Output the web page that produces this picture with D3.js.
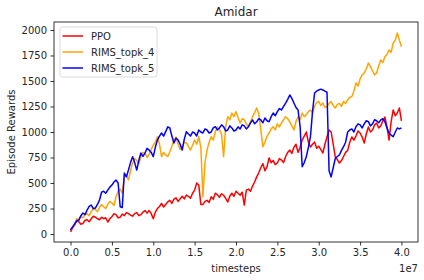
<!DOCTYPE html>
<html><head><meta charset="utf-8">
<script src="https://cdn.jsdelivr.net/npm/d3@7"></script>
<style>body{margin:0;background:#fff}svg text{font-family:"DejaVu Sans",sans-serif;fill:#262626}</style>
</head><body>
<svg id="c" width="424" height="280"></svg>
<script>
const title = "Amidar";
const xLabel = "timesteps";
const yLabel = "Episode Rewards";
const seriesNames = ["PPO", "RIMS_topk_4", "RIMS_topk_5"];
const seriesColors = ["#ff0000", "#ffa500", "#0000ff"];
// one value every 0.025e7 timesteps, from 0 to 4e7
const stepSize = 0.025;
const ppo = [22,60,90,130,120,95,105,135,140,120,150,175,165,150,140,165,150,160,118,150,
  170,200,190,160,165,195,180,210,200,185,175,200,210,180,190,215,230,205,230,200,
  150,215,250,270,300,265,290,315,330,300,343,355,320,345,370,345,382,370,350,400,
  431,500,480,290,290,320,330,310,365,340,400,385,360,395,380,350,314,370,400,370,
  420,400,380,410,284,430,440,420,470,510,560,600,650,690,620,660,745,700,720,680,
  696,740,725,700,760,800,823,790,850,880,800,850,921,960,1000,900,853,880,902,840,
  860,830,794,880,951,1020,1000,880,755,730,696,720,760,800,820,900,951,920,960,1010,
  990,950,892,980,1049,1000,1020,1070,1088,1040,1060,1110,1147,1050,921,1100,1216,1160,1186,1235,
  1110];
const topk4 = [40,70,100,150,137,170,160,190,200,180,219,250,240,220,260,290,268,250,290,320,
  304,280,366,420,440,400,560,580,530,620,696,740,720,690,758,800,794,750,780,830,
  870,900,954,880,758,800,775,760,807,860,921,950,880,830,856,900,892,860,823,870,
  921,880,954,850,366,700,823,900,954,920,1000,1050,1020,980,758,1050,1150,1120,1186,1150,
  1200,1140,1088,1130,1120,1080,1052,1100,1150,1190,1235,1180,1020,856,900,960,990,1030,1052,1020,
  1080,1050,1088,1120,1150,1130,1100,1060,1020,1100,1150,1120,1186,1150,1170,1200,1216,1190,1250,1290,
  1300,1260,1284,1240,1250,1280,1297,1260,1235,1270,1280,1250,1300,1280,1314,1340,1346,1400,1480,1450,
  1520,1560,1578,1620,1676,1640,1600,1560,1578,1650,1706,1680,1738,1760,1804,1780,1872,1900,1970,1900,
  1836];
const topk5 = [39,70,100,130,137,180,206,190,235,270,284,250,255,290,333,410,420,400,431,460,
  480,510,529,500,268,260,598,560,627,700,758,700,627,720,794,760,794,840,823,800,
  758,850,921,960,990,960,1003,1050,1039,960,892,940,921,880,823,930,1003,980,960,1000,
  990,960,1020,1000,990,1030,1020,990,1000,1040,1052,1020,1040,1070,1052,1010,1020,1060,1040,1010,
  1020,1050,1030,1070,1060,1030,1052,1090,1118,1080,1100,1130,1118,1090,1137,1110,1101,1150,1186,1160,
  1200,1230,1216,1250,1284,1320,1363,1330,1284,1240,1216,1052,660,700,758,850,954,1200,1382,1400,
  1412,1420,1412,1400,1390,620,560,650,740,760,775,820,856,900,1000,1020,1030,1000,1052,1080,
  1069,1040,1080,1110,1101,1060,1080,1120,1110,1090,1118,1130,1100,1040,990,970,954,1000,1039,1030,
  1039];
const xTicks = [0,0.5,1,1.5,2,2.5,3,3.5,4];
const yTicks = [0,250,500,750,1000,1250,1500,1750,2000];

const svg = d3.select("#c");
const L=54, R=418, T=22, B=242;
const x = d3.scaleLinear().domain([-0.2,4.2]).range([L,R]);
const y = d3.scaleLinear().domain([-78,2078]).range([B,T]);

const allSeries = [ppo, topk4, topk5];
const line = d3.line().x((d,i)=>x(i*stepSize)).y(d=>y(d));
allSeries.forEach((s,k)=>{
  svg.append("path").datum(s).attr("d", line).attr("fill","none")
    .attr("stroke", seriesColors[k]).attr("stroke-width",1.5).attr("stroke-linejoin","round");
});

const xa = svg.append("g").attr("transform",`translate(0,${B})`)
  .call(d3.axisBottom(x).tickValues(xTicks).tickFormat(d3.format(".1f")).tickSizeOuter(0).tickSize(3.5).tickPadding(3.5));
const ya = svg.append("g").attr("transform",`translate(${L},0)`)
  .call(d3.axisLeft(y).tickValues(yTicks).tickFormat(d3.format("d")).tickSizeOuter(0).tickSize(3.5).tickPadding(3.5));
[xa,ya].forEach(a=>{a.select(".domain").remove();a.selectAll("text").attr("font-size",10).attr("font-family","DejaVu Sans");a.selectAll("line").attr("stroke","#000").attr("stroke-width",0.8);});

svg.append("rect").attr("x",L).attr("y",T).attr("width",R-L).attr("height",B-T)
  .attr("fill","none").attr("stroke","#000").attr("stroke-width",0.8);

svg.append("text").attr("x",(L+R)/2).attr("y",16).attr("text-anchor","middle").attr("font-size",12).text(title);
svg.append("text").attr("x",(L+R)/2).attr("y",272).attr("text-anchor","middle").attr("font-size",10).text(xLabel);
svg.append("text").attr("x",R).attr("y",272).attr("text-anchor","end").attr("font-size",10).text("1e7");
svg.append("text").attr("transform",`translate(15,${(T+B)/2}) rotate(-90)`).attr("text-anchor","middle").attr("font-size",10).text(yLabel);

const lg = svg.append("g");
lg.append("rect").attr("x",60).attr("y",27).attr("width",97).attr("height",50).attr("rx",2.5)
  .attr("fill","#fff").attr("fill-opacity",0.8).attr("stroke","#d0d0d0").attr("stroke-width",0.8);
seriesNames.forEach((n,k)=>{
  const yy = 36 + k*16;
  lg.append("line").attr("x1",62.5).attr("x2",83).attr("y1",yy).attr("y2",yy)
    .attr("stroke",seriesColors[k]).attr("stroke-width",1.5);
  lg.append("text").attr("x",91).attr("y",yy+3.5).attr("font-size",10).text(n);
});
</script>
</body></html>
